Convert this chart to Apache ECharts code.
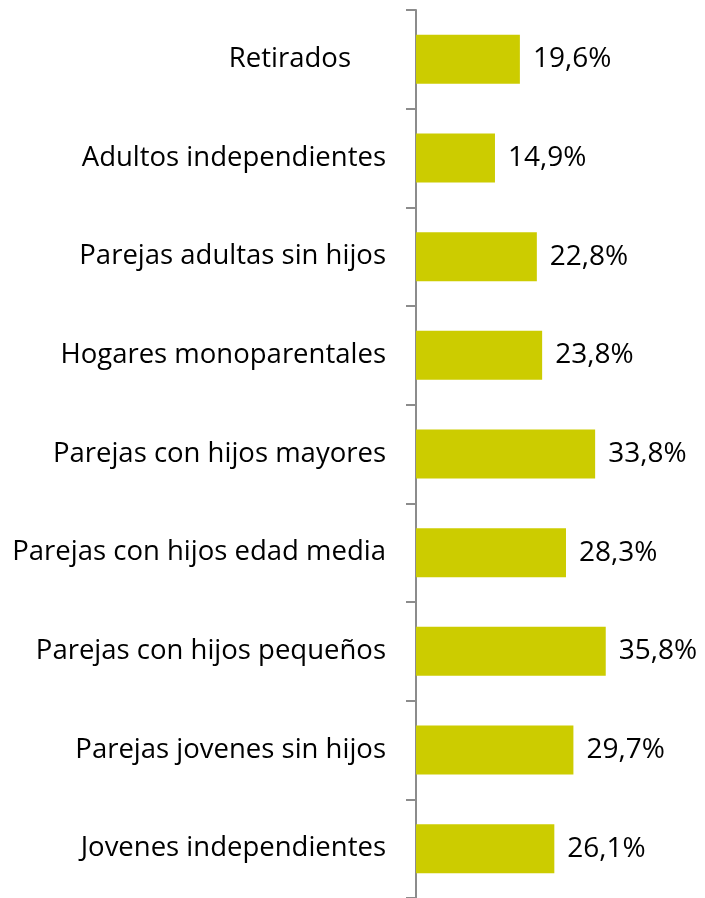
<!DOCTYPE html>
<html>
<head>
<meta charset="utf-8">
<script src="https://cdn.jsdelivr.net/npm/echarts@6/dist/echarts.min.js"></script>
<style>
  html, body { margin: 0; padding: 0; background: #fff; }
  #chart { width: 705px; height: 898px; }
</style>
</head>
<body>
<div id="chart"></div>
<script>
var categories = [
  'Retirados',
  'Adultos independientes',
  'Parejas adultas sin hijos',
  'Hogares monoparentales',
  'Parejas con hijos mayores',
  'Parejas con hijos edad media',
  'Parejas con hijos pequeños',
  'Parejas jovenes sin hijos',
  'Jovenes independientes'
]
var values = [19.6, 14.9, 22.8, 23.8, 33.8, 28.3, 35.8, 29.7, 26.1]

var myChart = echarts.init(document.getElementById('chart'))
var option = {
  animation: false,
  textStyle: { fontFamily: 'Open Sans' },
  grid: { left: 416, right: 24, top: 10, bottom: 0, containLabel: false },
  xAxis: {
    type: 'value',
    min: 0,
    max: 50,
    show: false
  },
  yAxis: {
    type: 'category',
    inverse: true,
    data: categories,
    axisLine: { show: true, lineStyle: { color: '#8c8c8c', width: 2 } },
    axisTick: { show: true, length: 10, lineStyle: { color: '#8c8c8c', width: 2 } },
    axisLabel: {
      color: '#000', fontSize: 27.5, margin: 30, fontFamily: 'Open Sans',
      formatter: function (v) {
        // 'Retirados' sits a bit left in the original
        return v === 'Retirados' ? '{pad|' + v + '}' : v
      },
      rich: {
        pad: { color: '#000', fontSize: 27.5, fontFamily: 'Open Sans', padding: [0, 35, 0, 0] }
      }
    },
    splitLine: { show: false }
  },
  series: [{
    type: 'bar',
    data: values,
    barWidth: 49,
    itemStyle: { color: '#cccc00' },
    label: {
      show: true,
      position: 'right',
      distance: 13,
      color: '#000',
      fontSize: 28,
      fontFamily: 'Open Sans',
      formatter: function (p) {
        return p.value.toFixed(1).replace('.', ',') + '%'
      }
    }
  }]
}
myChart.setOption(option)
</script>
</body>
</html>
